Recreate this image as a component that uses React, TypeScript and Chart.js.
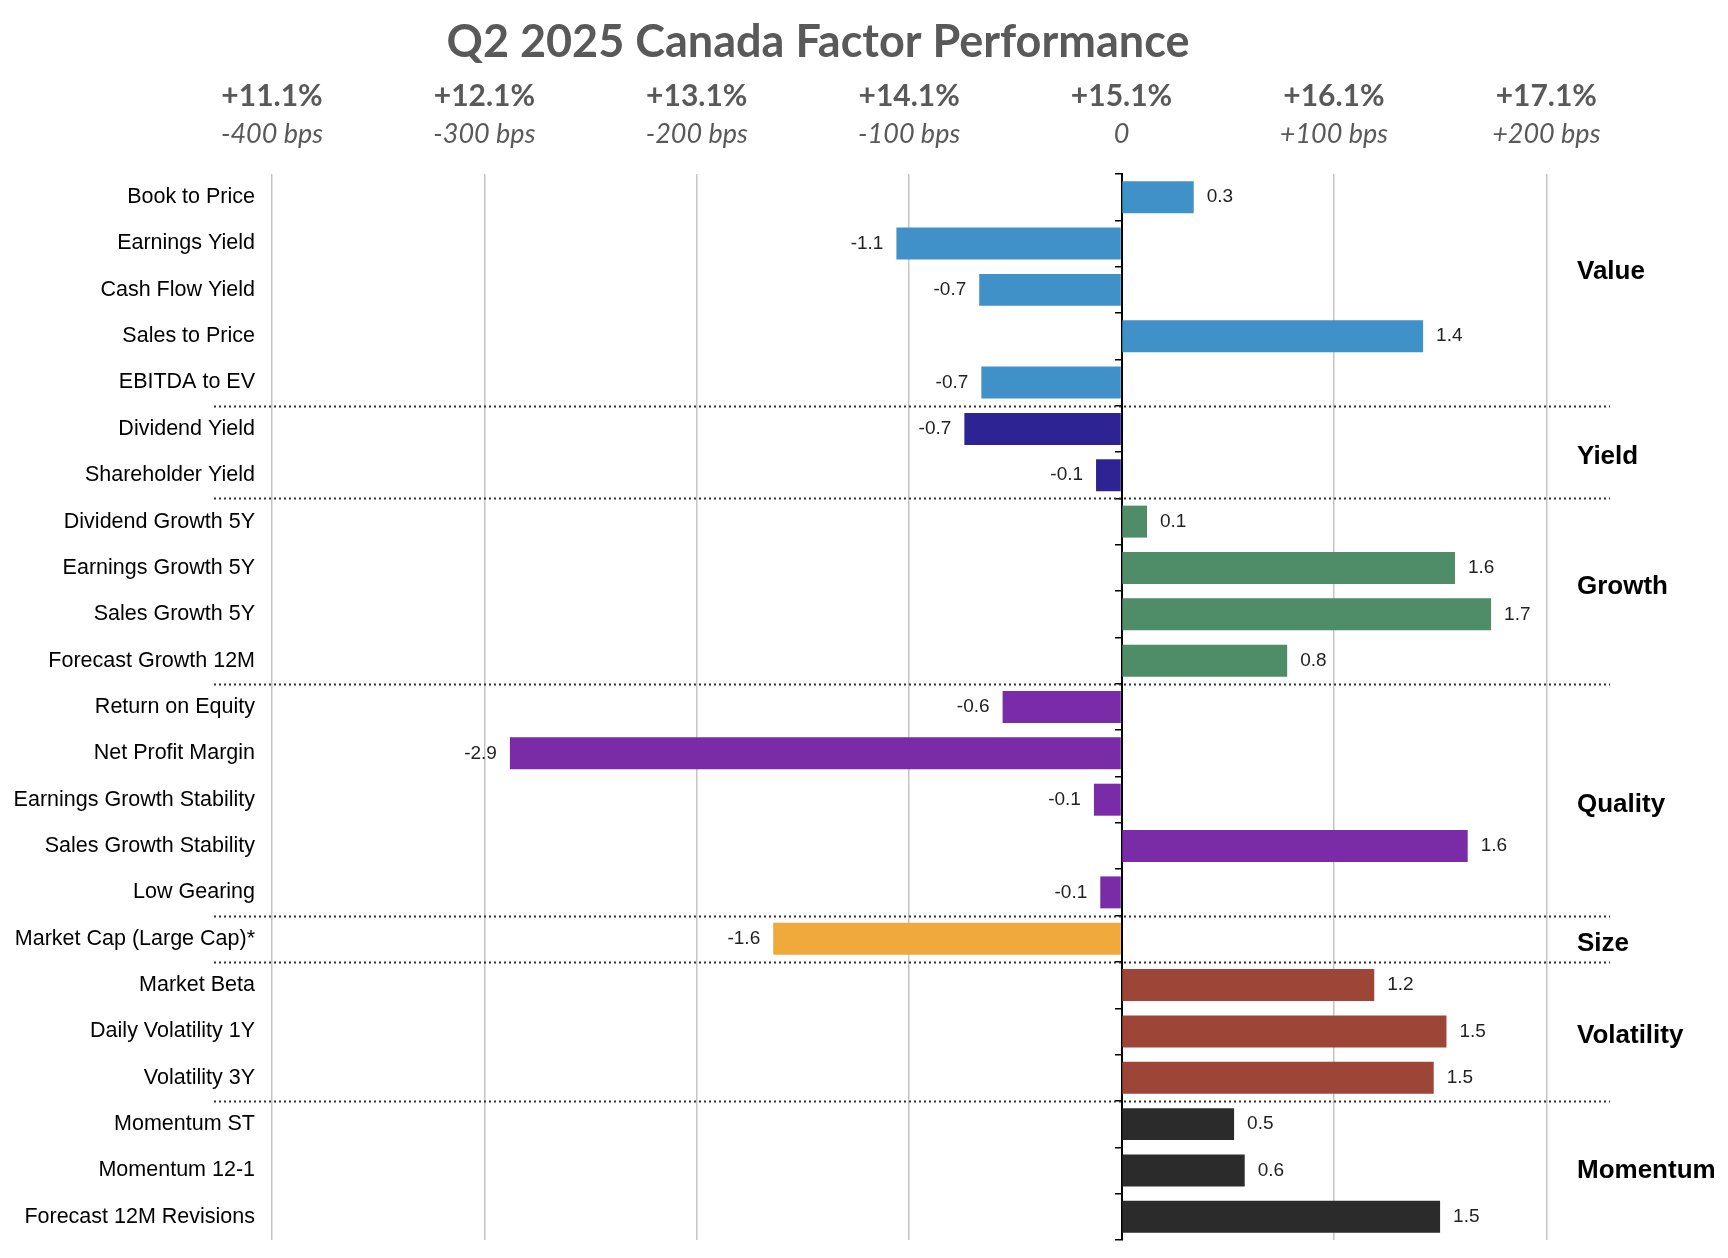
import { useEffect, useRef } from "react";
import { Chart, registerables } from "chart.js";

Chart.register(...registerables);

const chartTitle = "Q2 2025 Canada Factor Performance";

const categories = [
  "Book to Price",
  "Earnings Yield",
  "Cash Flow Yield",
  "Sales to Price",
  "EBITDA to EV",
  "Dividend Yield",
  "Shareholder Yield",
  "Dividend Growth 5Y",
  "Earnings Growth 5Y",
  "Sales Growth 5Y",
  "Forecast Growth 12M",
  "Return on Equity",
  "Net Profit Margin",
  "Earnings Growth Stability",
  "Sales Growth Stability",
  "Low Gearing",
  "Market Cap (Large Cap)*",
  "Market Beta",
  "Daily Volatility 1Y",
  "Volatility 3Y",
  "Momentum ST",
  "Momentum 12-1",
  "Forecast 12M Revisions",
];

const values = [
  0.34, -1.06, -0.67, 1.42, -0.66,
  -0.74, -0.12,
  0.12, 1.57, 1.74, 0.78,
  -0.56, -2.88, -0.13, 1.63, -0.1,
  -1.64,
  1.19, 1.53, 1.47,
  0.53, 0.58, 1.5,
];

const groups = ["Value", "Yield", "Growth", "Quality", "Size", "Volatility", "Momentum"];
const groupSizes = [5, 2, 4, 5, 1, 3, 3];
const groupColors = ["#3f91c8", "#2e2392", "#4f8c68", "#7a2ba7", "#f0a93b", "#9d4537", "#2b2b2b"];
const groupLabelRows = [1.6, 5.6, 8.4, 13.1, 16.1, 18.1, 21.0];

const tickValues = [-4, -3, -2, -1, 0, 1, 2];
const pctLabels = ["+11.1%", "+12.1%", "+13.1%", "+14.1%", "+15.1%", "+16.1%", "+17.1%"];
const bpsLabels = ["-400 bps", "-300 bps", "-200 bps", "-100 bps", "0", "+100 bps", "+200 bps"];

const barColors: string[] = [];
groupSizes.forEach((n, g) => {
  for (let i = 0; i < n; i++) barColors.push(groupColors[g]);
});

const separatorAfter: number[] = [];
{
  let acc = 0;
  groupSizes.slice(0, -1).forEach((n) => {
    acc += n;
    separatorAfter.push(acc - 1);
  });
}

function tickLabel(v: number, arr: string[]) {
  const r = Math.round(v);
  if (Math.abs(v - r) > 1e-6) return "";
  const i = tickValues.indexOf(r);
  return i >= 0 ? arr[i] : "";
}

const decorPlugin = {
  id: "decor",
  afterDraw(chart: any) {
    const { ctx, chartArea, scales } = chart;
    const y = scales.y;
    ctx.save();

    // Title
    ctx.fillStyle = "#595959";
    ctx.font = "bold 45px Lato, 'Open Sans', sans-serif";
    ctx.textAlign = "center";
    ctx.textBaseline = "middle";
    ctx.fillText(chartTitle, 810, 34);

    // Dotted group separators
    ctx.strokeStyle = "#333333";
    ctx.lineWidth = 2;
    ctx.setLineDash([2, 3]);
    separatorAfter.forEach((i) => {
      const py = Math.round((y.getPixelForValue(i) + y.getPixelForValue(i + 1)) / 2) + 0.5;
      ctx.beginPath();
      ctx.moveTo(chartArea.left - 58, py);
      ctx.lineTo(chartArea.right, py);
      ctx.stroke();
    });
    ctx.setLineDash([]);

    // Group labels
    ctx.fillStyle = "#000000";
    ctx.font = "bold 26px 'Liberation Sans', Arial, sans-serif";
    ctx.textAlign = "left";
    ctx.textBaseline = "middle";
    groups.forEach((g, k) => {
      ctx.fillText(g, chartArea.right - 33, y.getPixelForValue(groupLabelRows[k]));
    });

    // Value labels
    const meta = chart.getDatasetMeta(0);
    ctx.fillStyle = "#222222";
    ctx.font = "19px 'Liberation Sans', Arial, sans-serif";
    meta.data.forEach((el: any, i: number) => {
      const v = values[i];
      const txt = v.toFixed(1);
      if (v >= 0) {
        ctx.textAlign = "left";
        ctx.fillText(txt, el.x + 13, el.y);
      } else {
        ctx.textAlign = "right";
        ctx.fillText(txt, el.x - 13, el.y);
      }
    });
    ctx.restore();
  },
};

export default function App() {
  const ref = useRef<HTMLCanvasElement | null>(null);

  useEffect(() => {
    if (!ref.current) return;
    const chart = new Chart(ref.current, {
      type: "bar",
      data: {
        labels: categories,
        datasets: [
          {
            data: values,
            backgroundColor: barColors,
            barPercentage: 0.69,
            categoryPercentage: 1,
            xAxisID: "x",
            yAxisID: "y",
          },
        ],
      },
      options: {
        indexAxis: "y",
        animation: false,
        responsive: true,
        maintainAspectRatio: false,
        layout: { padding: { top: 61, right: 110, bottom: 10, left: 0 } },
        plugins: {
          legend: { display: false },
          tooltip: { enabled: false },
          title: { display: false },
        },
        scales: {
          x: {
            type: "linear",
            position: "top",
            weight: 1,
            min: -4,
            max: 2.3,
            ticks: {
              stepSize: 1,
              includeBounds: false,
              autoSkip: false,
              maxRotation: 0,
              padding: 24,
              color: "#595959",
              font: { family: "Lato, 'Open Sans', sans-serif", size: 27, style: "italic" },
              callback: (v: any) => tickLabel(Number(v), bpsLabels),
            },
            grid: {
              drawTicks: false,
              lineWidth: 1.5,
              color: (c: any) => (c.tick && c.tick.value === 0 ? "rgba(0,0,0,0)" : "#c4c4c4"),
            },
            border: { display: false },
            afterFit: (s: any) => {
              s.height = 60;
              s.paddingLeft = 0;
              s.paddingRight = 0;
            },
          },
          x2: {
            type: "linear",
            axis: "x",
            position: "top",
            weight: 2,
            min: -4,
            max: 2.3,
            ticks: {
              stepSize: 1,
              includeBounds: false,
              autoSkip: false,
              maxRotation: 0,
              padding: 0,
              color: "#595959",
              font: { family: "Lato, 'Open Sans', sans-serif", size: 30, weight: "bold" },
              callback: (v: any) => tickLabel(Number(v), pctLabels),
            },
            grid: { display: false, drawTicks: false },
            border: { display: false },
            afterFit: (s: any) => {
              s.height = 45;
              s.paddingLeft = 0;
              s.paddingRight = 0;
            },
          },
          y: {
            type: "category",
            position: "left",
            offset: true,
            grid: { display: false, drawTicks: false, offset: true },
            border: { display: false },
            ticks: {
              autoSkip: false,
              padding: 17,
              color: "#000000",
              font: { family: "'Liberation Sans', Arial, sans-serif", size: 21.5 },
            },
            afterFit: (s: any) => {
              s.width = 264;
              s.paddingTop = 0;
              s.paddingBottom = 0;
            },
          },
          y2: {
            type: "category",
            axis: "y",
            position: { x: 0 },
            offset: true,
            grid: {
              display: true,
              drawOnChartArea: false,
              drawTicks: true,
              tickLength: 6,
              offset: true,
              color: "#000000",
              lineWidth: 1.5,
            },
            border: { display: true, color: "#000000", width: 2 },
            ticks: { display: false },
          },
        } as any,
      },
      plugins: [decorPlugin],
    } as any);
    return () => chart.destroy();
  }, []);

  return (
    <div style={{ position: "relative", width: 1712, height: 1242 }}>
      <canvas ref={ref} />
    </div>
  );
}
